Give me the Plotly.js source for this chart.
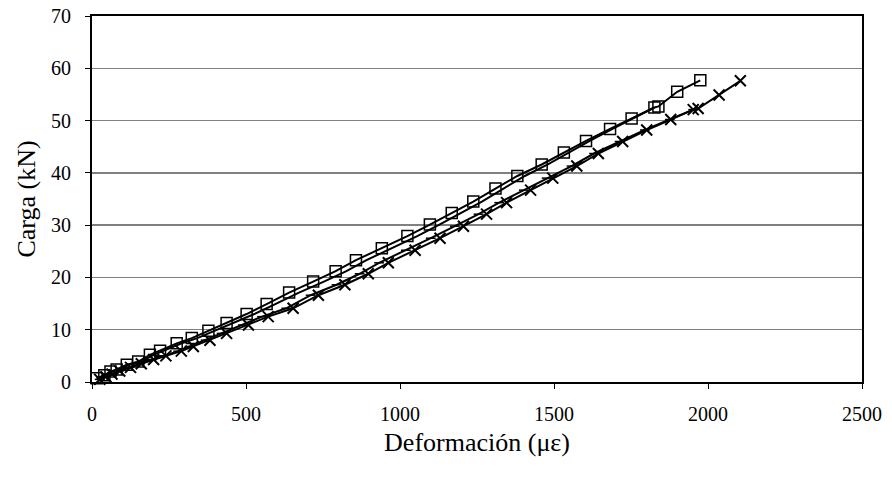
<!DOCTYPE html>
<html>
<head>
<meta charset="utf-8">
<script src="https://cdn.plot.ly/plotly-3.0.1.min.js"></script>
<style>html,body{margin:0;padding:0;background:#fff}#chart{width:892px;height:479px}</style>
</head>
<body>
<div id="chart"></div>
<script>
// Series 1 (squares)
const s1x = [15, 40, 60, 80, 113, 150, 188, 221, 275, 324, 378, 437, 502, 567, 640, 718, 791, 857, 941, 1024, 1097, 1168, 1238, 1310, 1381, 1460, 1532, 1604, 1682, 1752, 1826, 1839, 1900, 1975];
const s1y = [0.7, 1.3, 2.0, 2.4, 3.3, 3.9, 5.2, 6.0, 7.4, 8.4, 9.8, 11.3, 13.0, 14.9, 17.1, 19.2, 21.2, 23.3, 25.6, 27.9, 30.1, 32.3, 34.5, 37.0, 39.4, 41.6, 43.9, 46.1, 48.4, 50.4, 52.5, 52.7, 55.5, 57.7];
// Series 2 (plain line)
const s2x = [15, 42, 64, 86, 121, 160, 200, 235, 291, 342, 398, 459, 527, 595, 672, 753, 826, 891, 974, 1056, 1128, 1198, 1266, 1336, 1405, 1480, 1548, 1616, 1690, 1756, 1826];
const s2y = [0.7, 1.3, 2.0, 2.4, 3.3, 3.9, 5.2, 6.0, 7.4, 8.4, 9.8, 11.3, 13.0, 14.9, 17.1, 19.2, 21.2, 23.3, 25.6, 27.9, 30.1, 32.3, 34.5, 37.0, 39.4, 41.6, 43.9, 46.1, 48.4, 50.4, 52.5];
// Series 3 (dash markers)
const s3x = [25, 44, 63, 87, 121, 155, 194, 232, 280, 317, 369, 421, 490, 552, 631, 710, 794, 869, 932, 1019, 1100, 1178, 1255, 1322, 1402, 1476, 1557, 1630, 1713, 1795, 1876, 1952];
const s3y = [0.5, 1.0, 1.5, 2.1, 2.8, 3.5, 4.3, 5.0, 5.9, 6.8, 8.0, 9.3, 10.9, 12.5, 14.1, 16.6, 18.6, 20.7, 22.8, 25.2, 27.5, 29.8, 32.1, 34.3, 36.7, 39.0, 41.3, 43.7, 46.0, 48.2, 50.2, 52.1];
// Series 4 (crosses)
const s4x = [25, 45, 65, 90, 125, 160, 200, 240, 290, 329, 383, 437, 508, 572, 653, 735, 821, 897, 962, 1049, 1130, 1206, 1281, 1346, 1424, 1496, 1574, 1644, 1723, 1801, 1879, 1952, 1968, 2036, 2105];
const s4y = [0.5, 1.0, 1.5, 2.1, 2.8, 3.5, 4.3, 5.0, 5.9, 6.8, 8.0, 9.3, 10.9, 12.5, 14.1, 16.6, 18.6, 20.7, 22.8, 25.2, 27.5, 29.8, 32.1, 34.3, 36.7, 39.0, 41.3, 43.7, 46.0, 48.2, 50.2, 52.1, 52.3, 54.9, 57.6];

const xTicks = [0, 500, 1000, 1500, 2000, 2500];
const yTicks = [0, 10, 20, 30, 40, 50, 60, 70];

const font = {family: '"Liberation Serif", "Times New Roman", serif', color: '#000'};

const traces = [
  {x: s2x, y: s2y, mode: 'lines', line: {color: '#000', width: 2}, cliponaxis: false},
  {x: s3x, y: s3y, mode: 'lines+markers', line: {color: '#000', width: 2},
   marker: {symbol: 'line-ew-open', size: 7, line: {color: '#000', width: 1.5}}, cliponaxis: false},
  {x: s4x, y: s4y, mode: 'lines+markers', line: {color: '#000', width: 2},
   marker: {symbol: 'x-thin-open', size: 11, color: '#000', line: {color: '#000', width: 2}}, cliponaxis: false},
  {x: s1x, y: s1y, mode: 'lines+markers', line: {color: '#000', width: 2},
   marker: {symbol: 'square-open', size: 11, color: '#000', line: {color: '#000', width: 1.5}}, cliponaxis: false}
];

const layout = {
  width: 892, height: 479,
  margin: {l: 92, r: 30, t: 16, b: 97},
  paper_bgcolor: '#fff', plot_bgcolor: '#fff',
  showlegend: false,
  font: Object.assign({size: 20}, font),
  xaxis: {
    range: [0, 2500], tickvals: xTicks, ticktext: xTicks.map(String),
    showgrid: false, zeroline: false,
    showline: true, linecolor: '#000', linewidth: 2, mirror: true,
    ticks: 'outside', ticklen: 5, tickcolor: '#000', tickwidth: 1,
    ticklabelstandoff: 8,
    tickfont: Object.assign({size: 20}, font),
    title: {text: 'Deformación (με)', font: Object.assign({size: 26}, font), standoff: 9}
  },
  yaxis: {
    range: [0, 70], tickvals: yTicks, ticktext: yTicks.map(String),
    showgrid: true, gridcolor: '#808080', gridwidth: 1.5, zeroline: false,
    showline: true, linecolor: '#000', linewidth: 2, mirror: true,
    ticks: 'outside', ticklen: 5, tickcolor: '#000', tickwidth: 1,
    ticklabelstandoff: 10,
    tickfont: Object.assign({size: 20}, font),
    title: {text: 'Carga (kN)', font: Object.assign({size: 26}, font), standoff: 8}
  }
};

Plotly.newPlot('chart', traces, layout, {displayModeBar: false, staticPlot: true});
</script>
</body>
</html>
